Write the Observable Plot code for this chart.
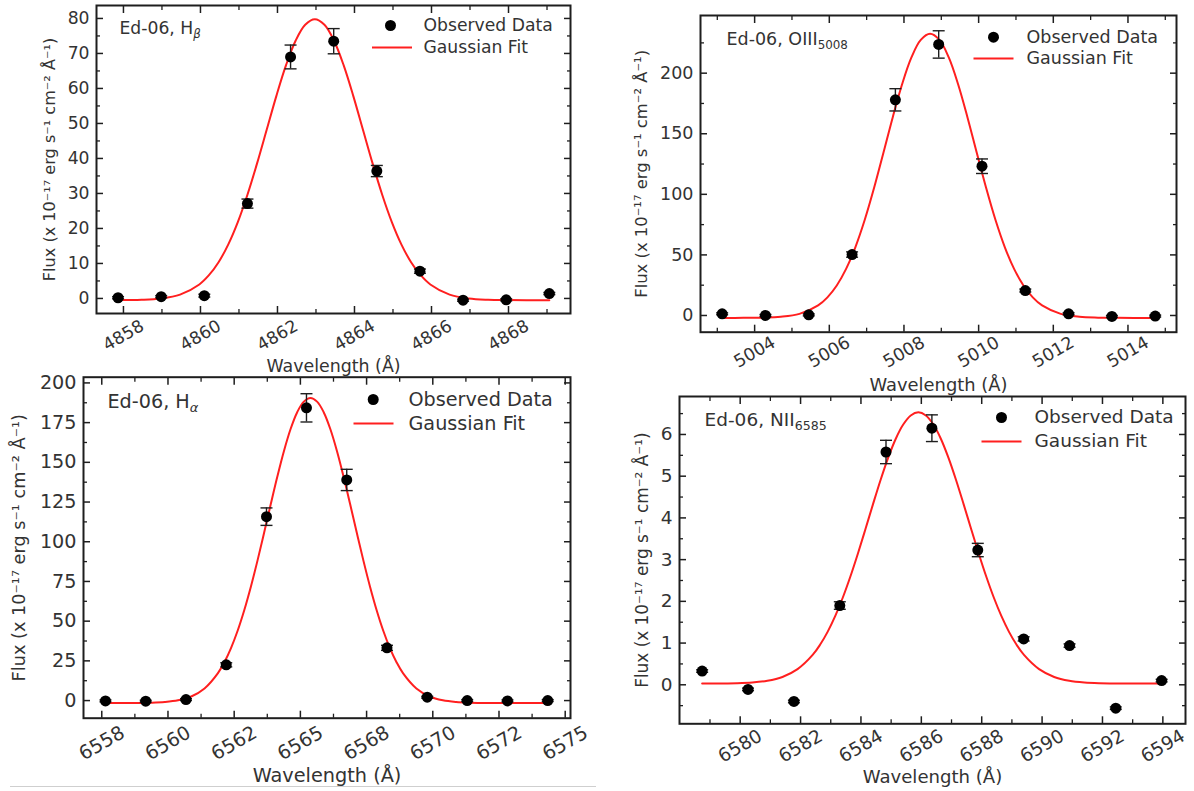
<!DOCTYPE html>
<html><head><meta charset="utf-8">
<script src="https://cdn.jsdelivr.net/npm/d3@7"></script>
<script src="https://cdn.jsdelivr.net/npm/@observablehq/plot@0.6"></script>
<style>
body{margin:0;background:#fff;width:1194px;height:791px;overflow:hidden;position:relative;font-family:"DejaVu Sans",sans-serif;}
.panel{position:absolute;}
.sep{position:absolute;left:10px;top:786px;width:586px;height:0;border-top:1.5px solid #cfcfcf;}
</style></head><body>
<div class="sep"></div>
<script>
// ---------- data ----------
const xTitle = "Wavelength (Å)";
const yTitle = "Flux (x 10⁻¹⁷ erg s⁻¹ cm⁻² Å⁻¹)";
const legendLabels = ["Observed Data", "Gaussian Fit"];

// H-beta
const hbName = "Ed-06, H_β";
const hbWave = [4857.86, 4858.98, 4860.10, 4861.22, 4862.34, 4863.46, 4864.58, 4865.70, 4866.82, 4867.94, 4869.06];
const hbFlux = [0.2, 0.5, 0.8, 27.1, 69.0, 73.5, 36.4, 7.8, -0.5, -0.4, 1.4];
const hbErr  = [0.3, 0.3, 0.4, 1.3, 3.4, 3.6, 1.6, 0.6, 0.3, 0.3, 0.3];
const hbFitWave = [4857.86, 4858.47, 4858.97, 4859.47, 4859.97, 4860.22, 4860.47, 4860.72, 4860.97, 4861.22, 4861.47, 4861.72, 4861.97, 4862.22, 4862.47, 4862.72, 4862.97, 4863.22, 4863.47, 4863.72, 4863.97, 4864.22, 4864.47, 4864.72, 4864.97, 4865.22, 4865.47, 4865.72, 4865.97, 4866.47, 4866.97, 4867.47, 4867.97, 4869.06];
const hbFitFlux = [-0.47, -0.38, -0.02, 1.09, 4.00, 6.64, 10.36, 15.39, 21.82, 29.64, 38.59, 48.20, 57.81, 66.57, 73.63, 78.21, 79.80, 78.21, 73.63, 66.57, 57.81, 48.20, 38.59, 29.64, 21.82, 15.39, 10.36, 6.64, 4.00, 1.09, -0.02, -0.38, -0.47, -0.50];
const hbXMajor = [4858, 4860, 4862, 4864, 4866, 4868];
const hbXLabels = ["4858", "4860", "4862", "4864", "4866", "4868"];
const hbXMinor = [4859, 4861, 4863, 4865, 4867, 4869];
const hbYMajor = [0, 10, 20, 30, 40, 50, 60, 70, 80];
const hbYMinor = [5, 15, 25, 35, 45, 55, 65, 75];

// [OIII] 5008
const oName = "Ed-06, OIII_5008";
const oWave = [5003.13, 5004.29, 5005.45, 5006.61, 5007.77, 5008.93, 5010.09, 5011.25, 5012.41, 5013.57, 5014.73];
const oFlux = [1.4, 0.0, 0.5, 50.3, 178.0, 223.7, 123.2, 20.6, 1.4, -0.8, -0.5];
const oErr  = [0.8, 0.8, 0.8, 2.2, 9.2, 11.3, 6.0, 1.2, 0.8, 0.8, 0.8];
const oFitWave = [5003.13, 5003.70, 5004.20, 5004.70, 5005.20, 5005.70, 5005.95, 5006.20, 5006.45, 5006.70, 5006.95, 5007.20, 5007.45, 5007.70, 5007.95, 5008.20, 5008.45, 5008.70, 5008.95, 5009.20, 5009.45, 5009.70, 5009.95, 5010.20, 5010.45, 5010.70, 5010.95, 5011.20, 5011.45, 5011.70, 5012.20, 5012.70, 5013.20, 5013.70, 5014.73];
const oFitFlux = [-2.0, -1.96, -1.79, -1.09, 1.33, 8.29, 14.98, 24.76, 38.43, 56.48, 78.97, 105.35, 134.31, 163.70, 190.90, 213.01, 227.46, 232.5, 227.46, 213.01, 190.90, 163.70, 134.31, 105.35, 78.97, 56.48, 38.43, 24.76, 14.98, 8.29, 1.33, -1.09, -1.79, -1.96, -2.0];
const oXMajor = [5004, 5006, 5008, 5010, 5012, 5014];
const oXLabels = ["5004", "5006", "5008", "5010", "5012", "5014"];
const oXMinor = [5003, 5005, 5007, 5009, 5011, 5013, 5015];
const oYMajor = [0, 50, 100, 150, 200];
const oYMinor = [25, 75, 125, 175, 225];

// H-alpha
const haName = "Ed-06, H_α";
const haWave = [6557.64, 6559.16, 6560.68, 6562.20, 6563.72, 6565.23, 6566.75, 6568.27, 6569.79, 6571.30, 6572.82, 6574.34];
const haFlux = [-0.2, -0.4, 0.6, 22.5, 115.8, 184.3, 138.9, 33.2, 2.1, 0.0, -0.2, 0.0];
const haErr  = [0.6, 0.6, 0.6, 1.3, 5.5, 8.9, 6.7, 1.6, 0.6, 0.6, 0.6, 0.6];
const haFitWave = [6557.64, 6558.38, 6559.38, 6559.88, 6560.38, 6560.88, 6561.38, 6561.88, 6562.13, 6562.38, 6562.63, 6562.88, 6563.13, 6563.38, 6563.63, 6563.88, 6564.13, 6564.38, 6564.63, 6564.88, 6565.13, 6565.38, 6565.63, 6565.88, 6566.13, 6566.38, 6566.63, 6566.88, 6567.13, 6567.38, 6567.63, 6567.88, 6568.13, 6568.38, 6568.63, 6568.88, 6569.38, 6569.88, 6570.38, 6570.88, 6571.38, 6572.38, 6574.34];
const haFitFlux = [-1.5, -1.48, -1.30, -0.90, 0.14, 2.55, 7.61, 17.10, 24.17, 33.06, 43.95, 56.87, 71.69, 88.11, 105.64, 123.57, 141.06, 157.19, 170.99, 181.57, 188.23, 190.5, 188.23, 181.57, 170.99, 157.19, 141.06, 123.57, 105.64, 88.11, 71.69, 56.87, 43.95, 33.06, 24.17, 17.10, 7.61, 2.55, 0.14, -0.90, -1.30, -1.48, -1.5];
const haXMajor = [6557.5, 6560, 6562.5, 6565, 6567.5, 6570, 6572.5, 6575];
const haXLabels = ["6558", "6560", "6562", "6565", "6568", "6570", "6572", "6575"];
const haXMinor = [6558.75, 6561.25, 6563.75, 6566.25, 6568.75, 6571.25, 6573.75];
const haYMajor = [0, 25, 50, 75, 100, 125, 150, 175, 200];
const haYMinor = [12.5, 37.5, 62.5, 87.5, 112.5, 137.5, 162.5, 187.5];

// [NII] 6585
const nName = "Ed-06, NII_6585";
const nWave = [6578.74, 6580.26, 6581.78, 6583.30, 6584.83, 6586.35, 6587.87, 6589.39, 6590.91, 6592.44, 6593.96];
const nFlux = [0.33, -0.11, -0.40, 1.90, 5.58, 6.15, 3.23, 1.10, 0.94, -0.56, 0.10];
const nErr  = [0.03, 0.03, 0.03, 0.09, 0.28, 0.32, 0.16, 0.05, 0.04, 0.03, 0.03];
const nFitWave = [6578.74, 6579.90, 6580.40, 6580.90, 6581.40, 6581.90, 6582.40, 6582.65, 6582.90, 6583.15, 6583.40, 6583.65, 6583.90, 6584.15, 6584.40, 6584.65, 6584.90, 6585.15, 6585.40, 6585.65, 6585.90, 6586.15, 6586.40, 6586.65, 6586.90, 6587.15, 6587.40, 6587.65, 6587.90, 6588.15, 6588.40, 6588.65, 6588.90, 6589.15, 6589.40, 6589.90, 6590.40, 6590.90, 6591.40, 6591.90, 6592.90, 6593.96];
const nFitFlux = [0.030, 0.039, 0.055, 0.096, 0.188, 0.375, 0.715, 0.964, 1.275, 1.651, 2.092, 2.595, 3.148, 3.734, 4.330, 4.909, 5.439, 5.892, 6.238, 6.456, 6.530, 6.456, 6.238, 5.892, 5.439, 4.909, 4.330, 3.734, 3.148, 2.595, 2.092, 1.651, 1.275, 0.964, 0.715, 0.375, 0.188, 0.096, 0.055, 0.039, 0.031, 0.030];
const nXMajor = [6580, 6582, 6584, 6586, 6588, 6590, 6592, 6594];
const nXLabels = ["6580", "6582", "6584", "6586", "6588", "6590", "6592", "6594"];
const nXMinor = [6579, 6581, 6583, 6585, 6587, 6589, 6591, 6593];
const nYMajor = [0, 1, 2, 3, 4, 5, 6];
const nYMinor = [-0.5, 0.5, 1.5, 2.5, 3.5, 4.5, 5.5, 6.5];

// ---------- drawing ----------
const INK = "#1e1e1e", TXT = "#333", RED = "#ff1f1f";
const capSymbol = {draw(ctx, size) { const w = Math.sqrt(size / Math.PI); ctx.moveTo(-w, 0); ctx.lineTo(w, 0); }};

function addSubscripts(svg) {
  d3.select(svg).selectAll("text").each(function () {
    const t = this.textContent;
    const k = t.indexOf("_");
    if (k < 0) return;
    const el = d3.select(this);
    el.text(t.slice(0, k));
    const sub = t.slice(k + 1);
    const ts = el.append("tspan").attr("dy", "0.3em").attr("font-size", "68%").text(sub);
    if (/[α-ω]/.test(sub)) ts.attr("font-style", "italic");
  });
}

function panel(p, L) {
  const pts = p.wave.map((w, i) => ({w, f: p.flux[i], e: p.err[i]}));
  const fit = p.fitWave.map((w, i) => ({w, f: p.fitFlux[i]}));
  const axes = [];
  for (const anchor of ["bottom", "top"]) {
    axes.push(Plot.axisX(p.xMajor, {anchor, tickSize: -7, fill: "none", label: null, stroke: INK, strokeWidth: 1.5}));
    axes.push(Plot.axisX(p.xMinor, {anchor, tickSize: -4, fill: "none", label: null, stroke: INK, strokeWidth: 1.3}));
  }
  for (const anchor of ["left", "right"]) {
    axes.push(Plot.axisY(p.yMajor, {anchor, tickSize: -7, fill: "none", label: null, stroke: INK, strokeWidth: 1.5}));
    axes.push(Plot.axisY(p.yMinor, {anchor, tickSize: -4, fill: "none", label: null, stroke: INK, strokeWidth: 1.3}));
  }
  const chart = Plot.plot({
    width: L.w, height: L.h,
    marginLeft: L.mL, marginRight: L.mR, marginTop: L.mT, marginBottom: L.mB,
    x: {domain: L.xDomain},
    y: {domain: L.yDomain},
    style: {fontFamily: '"DejaVu Sans", sans-serif', fontSize: L.font + "px", color: TXT, background: "transparent", overflow: "visible"},
    marks: [
      Plot.line(fit, {x: "w", y: "f", stroke: RED, strokeWidth: 2, curve: "catmull-rom"}),
      Plot.ruleX(pts, {x: "w", y1: d => d.f - d.e, y2: d => d.f + d.e, stroke: INK, strokeWidth: 1.4}),
      Plot.dot(pts, {x: "w", y: d => d.f + d.e, symbol: capSymbol, r: 6, fill: "none", stroke: INK, strokeWidth: 1.4}),
      Plot.dot(pts, {x: "w", y: d => d.f - d.e, symbol: capSymbol, r: 6, fill: "none", stroke: INK, strokeWidth: 1.4}),
      Plot.dot(pts, {x: "w", y: "f", r: 5.5, fill: "#000", stroke: "none"}),
      ...axes,
      Plot.axisY(p.yMajor, {anchor: "left", tickSize: 0, tickPadding: 7, label: null, fill: TXT, tickFormat: d => String(d)}),
      Plot.text(p.xMajor, {x: d => d, text: (d, i) => p.xLabels[i], frameAnchor: "bottom", dy: L.xTickDy, rotate: -30, textAnchor: "middle", lineAnchor: "middle", fill: TXT}),
      Plot.text([xTitle], {frameAnchor: "bottom", dy: L.xTitleDy, text: d => d, textAnchor: "middle", lineAnchor: "middle", fontSize: L.xTitleFont, fill: TXT}),
      Plot.text([yTitle], {frameAnchor: "left", dx: L.yTitleDx, rotate: -90, text: d => d, textAnchor: "middle", lineAnchor: "middle", fontSize: L.yTitleFont, fill: TXT}),
      Plot.text([p.name], {frameAnchor: "top-left", dx: L.annDx, dy: L.annDy, textAnchor: "start", lineAnchor: "middle", text: d => d, fill: TXT}),
      Plot.dot([legendLabels[0]], {frameAnchor: "top-right", dx: L.legDotDx, dy: L.legDy1, r: 5.5, fill: "#000", stroke: "none"}),
      Plot.text([legendLabels[0]], {frameAnchor: "top-right", dx: L.legTextDx, dy: L.legDy1, textAnchor: "start", lineAnchor: "middle", text: d => d, fill: TXT}),
      Plot.dot([legendLabels[1]], {frameAnchor: "top-right", dx: L.legLineDx, dy: L.legDy2, symbol: capSymbol, r: 20, fill: "none", stroke: RED, strokeWidth: 2}),
      Plot.text([legendLabels[1]], {frameAnchor: "top-right", dx: L.legTextDx, dy: L.legDy2, textAnchor: "start", lineAnchor: "middle", text: d => d, fill: TXT}),
      Plot.frame({stroke: INK, strokeWidth: 2})
    ]
  });
  addSubscripts(chart);
  const div = document.createElement("div");
  div.className = "panel";
  div.style.left = L.left + "px";
  div.style.top = L.top + "px";
  div.appendChild(chart);
  document.body.appendChild(div);
}

panel(
  {name: hbName, wave: hbWave, flux: hbFlux, err: hbErr, fitWave: hbFitWave, fitFlux: hbFitFlux,
   xMajor: hbXMajor, xLabels: hbXLabels, xMinor: hbXMinor, yMajor: hbYMajor, yMinor: hbYMinor},
  {left: 0, top: 0, w: 600, h: 390, mL: 96, mR: 30, mT: 5, mB: 77,
   xDomain: [4857.3, 4869.61], yDomain: [-4.3, 83.7], font: 17.2,
   xTickDy: 22, xTitleDy: 53, xTitleFont: 17.4, yTitleDx: -46.4, yTitleFont: 16.1,
   annDx: 23, annDy: 23.3, legDotDx: -180, legTextDx: -147, legLineDx: -178.5, legDy1: 20, legDy2: 42}
);
panel(
  {name: oName, wave: oWave, flux: oFlux, err: oErr, fitWave: oFitWave, fitFlux: oFitFlux,
   xMajor: oXMajor, xLabels: oXLabels, xMinor: oXMinor, yMajor: oYMajor, yMinor: oYMinor},
  {left: 600, top: 0, w: 594, h: 400, mL: 100, mR: 18, mT: 15, mB: 68.3,
   xDomain: [5002.55, 5015.3], yDomain: [-13.8, 247.6], font: 17.5,
   xTickDy: 20, xTitleDy: 53.3, xTitleFont: 17.9, yTitleDx: -58.4, yTitleFont: 16.4,
   annDx: 26, annDy: 24.3, legDotDx: -183, legTextDx: -150, legLineDx: -183, legDy1: 21.7, legDy2: 43}
);
panel(
  {name: haName, wave: haWave, flux: haFlux, err: haErr, fitWave: haFitWave, fitFlux: haFitFlux,
   xMajor: haXMajor, xLabels: haXLabels, xMinor: haXMinor, yMajor: haYMajor, yMinor: haYMinor},
  {left: 0, top: 360, w: 600, h: 431, mL: 83, mR: 30, mT: 16.7, mB: 73.3,
   xDomain: [6556.81, 6575.2], yDomain: [-11.1, 203.6], font: 19.2,
   xTickDy: 25, xTitleDy: 57.3, xTitleFont: 19.3, yTitleDx: -64, yTitleFont: 17.7,
   annDx: 24, annDy: 25, legDotDx: -197.3, legTextDx: -162, legLineDx: -197, legDy1: 22.3, legDy2: 46.3}
);
panel(
  {name: nName, wave: nWave, flux: nFlux, err: nErr, fitWave: nFitWave, fitFlux: nFitFlux,
   xMajor: nXMajor, xLabels: nXLabels, xMinor: nXMinor, yMajor: nYMajor, yMinor: nYMinor},
  {left: 600, top: 380, w: 594, h: 411, mL: 79, mR: 9, mT: 16, mB: 67.7,
   xDomain: [6577.99, 6594.75], yDomain: [-0.935, 6.91], font: 18.5,
   xTickDy: 22.4, xTitleDy: 53.4, xTitleFont: 18.1, yTitleDx: -37, yTitleFont: 16.9,
   annDx: 25, annDy: 24, legDotDx: -184, legTextDx: -151, legLineDx: -184, legDy1: 21, legDy2: 45}
);
</script>
</body></html>
